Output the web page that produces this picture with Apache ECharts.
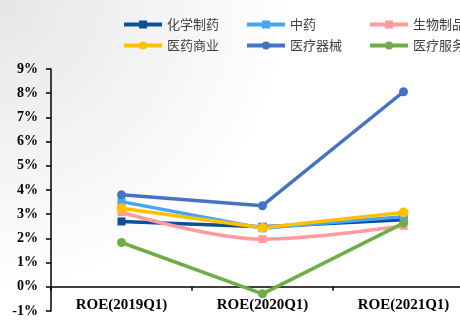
<!DOCTYPE html>
<html>
<head>
<meta charset="utf-8">
<script src="https://cdn.jsdelivr.net/npm/echarts@6/dist/echarts.min.js"></script>
<style>
  html, body { margin: 0; padding: 0; background: #fff; }
  #chart { width: 460px; height: 324px; }
</style>
</head>
<body>
<div id="chart"></div>
<script>
// Quarterly ROE by pharma sub-sector (%)
const categories = ['ROE(2019Q1)', 'ROE(2020Q1)', 'ROE(2021Q1)'];
const chemPharma = [2.70, 2.48, 2.77];   // 化学制药
const tcm = [3.52, 2.42, 2.90];          // 中药
const biologics = [3.08, 1.97, 2.52];    // 生物制品
const distribution = [3.25, 2.44, 3.07]; // 医药商业
const devices = [3.80, 3.35, 8.06];      // 医疗器械
const services = [1.83, -0.29, 2.63];    // 医疗服务
const yTicks = { min: -1, max: 9, interval: 1 };

const seriesDefs = [
  { name: '化学制药', data: chemPharma, color: '#0B4F96', symbol: 'rect', size: 8, smooth: false },
  { name: '中药', data: tcm, color: '#45A5F7', symbol: 'rect', size: 8, smooth: false },
  { name: '生物制品', data: biologics, color: '#FF9B9B', symbol: 'rect', size: 8, smooth: 0.35 },
  { name: '医药商业', data: distribution, color: '#FFC000', symbol: 'circle', size: 10, smooth: false },
  { name: '医疗器械', data: devices, color: '#4472C4', symbol: 'circle', size: 9, smooth: false },
  { name: '医疗服务', data: services, color: '#70AD47', symbol: 'circle', size: 9, smooth: false }
];

const legendText = { fontFamily: 'Noto Sans CJK SC', fontSize: 13, color: '#404040' };
function legendCol(names, left) {
  return {
    orient: 'vertical', left: left, top: 13,
    itemWidth: 38, itemHeight: 10, itemGap: 8,
    lineStyle: { width: 4 },
    textStyle: legendText, data: names
  };
}

const chart = echarts.init(document.getElementById('chart'), null, { renderer: 'canvas' });
chart.setOption({
  animation: false,
  backgroundColor: {
    type: 'radial', x: 0, y: 0, r: 0.9,
    colorStops: [{ offset: 0, color: '#e6e6e6' }, { offset: 1, color: '#ffffff' }]
  },
  legend: [
    legendCol(['化学制药', '医药商业'], 117),
    legendCol(['中药', '医疗器械'], 240),
    legendCol(['生物制品', '医疗服务'], 363)
  ],
  grid: { left: 51, right: -14, top: 69, bottom: 13, containLabel: false, outerBoundsMode: 'none' },
  xAxis: {
    type: 'category', data: categories, boundaryGap: true,
    axisLine: { onZero: true, lineStyle: { color: '#000', width: 1.5 } },
    axisTick: { show: true, length: 4, lineStyle: { color: '#000', width: 1.5 } },
    axisLabel: { fontFamily: 'Liberation Serif', fontWeight: 'bold', fontSize: 15, color: '#000', margin: -13 }
  },
  yAxis: {
    type: 'value', min: yTicks.min, max: yTicks.max, interval: yTicks.interval,
    splitLine: { show: false },
    axisLine: { show: true, lineStyle: { color: '#000', width: 1.5 } },
    axisTick: { show: true, length: 5, lineStyle: { color: '#000', width: 1.5 } },
    axisLabel: { formatter: '{value}%', fontFamily: 'Liberation Serif', fontWeight: 'bold', fontSize: 14, color: '#000', margin: 13 }
  },
  series: seriesDefs.map(s => ({
    name: s.name, type: 'line', data: s.data, smooth: s.smooth,
    symbol: s.symbol, symbolSize: s.size, showSymbol: true,
    lineStyle: { color: s.color, width: 3.5 },
    itemStyle: { color: s.color },
    emphasis: { disabled: true }
  }))
});
</script>
</body>
</html>
